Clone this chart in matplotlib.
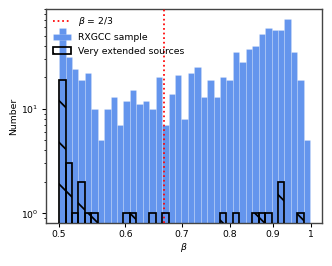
import numpy as np
import matplotlib
matplotlib.use('Agg')
import matplotlib.pyplot as plt

# histogram of beta, log-spaced bins from 0.5 to ~1
beta_min = 0.5
beta_max = 0.997
n_bins = 39

# counts per bin
rxgcc_counts = [59, 31, 24, 19, 22, 10, 5, 10, 13, 7, 12, 15, 11, 12, 10, 20, 7, 14, 21, 8,
                22, 25, 13, 19, 13, 20, 19, 35, 28, 37, 40, 52, 59, 57, 57, 73, 35, 19, 5]
ext_counts = [19, 3, 1, 2, 1, 1, 0, 0, 0, 0, 1, 1, 0, 0, 1, 0, 1, 0, 0, 0,
              0, 0, 0, 0, 0, 1, 0, 1, 0, 0, 1, 1, 1, 0, 2, 0, 0, 1, 0]

xticks = [0.5, 0.6, 0.7, 0.8, 0.9, 1.0]
xticklabels = ['0.5', '0.6', '0.7', '0.8', '0.9', '1']

edges = np.logspace(np.log10(beta_min), np.log10(beta_max), n_bins + 1)
centers = np.sqrt(edges[:-1] * edges[1:])

plt.rcParams['font.size'] = 5.3
plt.rcParams['hatch.linewidth'] = 1.0

fig = plt.figure(figsize=(332 / 125, 266 / 125), dpi=125)
ax = fig.add_axes([0.139, 0.162, 0.831, 0.804])

line = ax.axvline(2 / 3, color='red', ls=':', lw=1.0, zorder=3)
_, _, p1 = ax.hist(centers, bins=edges, weights=rxgcc_counts, color='cornflowerblue',
                   edgecolor=(1, 1, 1, 0.25), lw=0.4)
ext_w = np.array(ext_counts, dtype=float)
keep = ext_w > 0
_, _, p2 = ax.hist(centers[keep], bins=edges, weights=ext_w[keep], fill=False,
                   edgecolor='k', hatch='\\', lw=1.0, zorder=4)

ax.set_xscale('log')
ax.set_yscale('log')
ax.set_xlim(0.4825, 1.03)
ax.set_ylim(0.81, 90)
ax.xaxis.set_minor_locator(matplotlib.ticker.NullLocator())
ax.set_xticks(xticks)
ax.set_xticklabels(xticklabels)
ax.tick_params(which='major', length=2.2, width=0.6, pad=2)
ax.tick_params(which='minor', length=1.3, width=0.5)
for s in ax.spines.values():
    s.set_linewidth(0.8)
    s.set_color('#444444')

ax.set_xlabel(r'$\beta$', labelpad=1)
ax.set_ylabel('Number', labelpad=2)

ax.legend([line, p1[0], p2[0]], [r'$\beta$ = 2/3', 'RXGCC sample', 'Very extended sources'],
          loc='upper left', frameon=False, borderaxespad=0.3)

fig.savefig('out.png', dpi=125)
